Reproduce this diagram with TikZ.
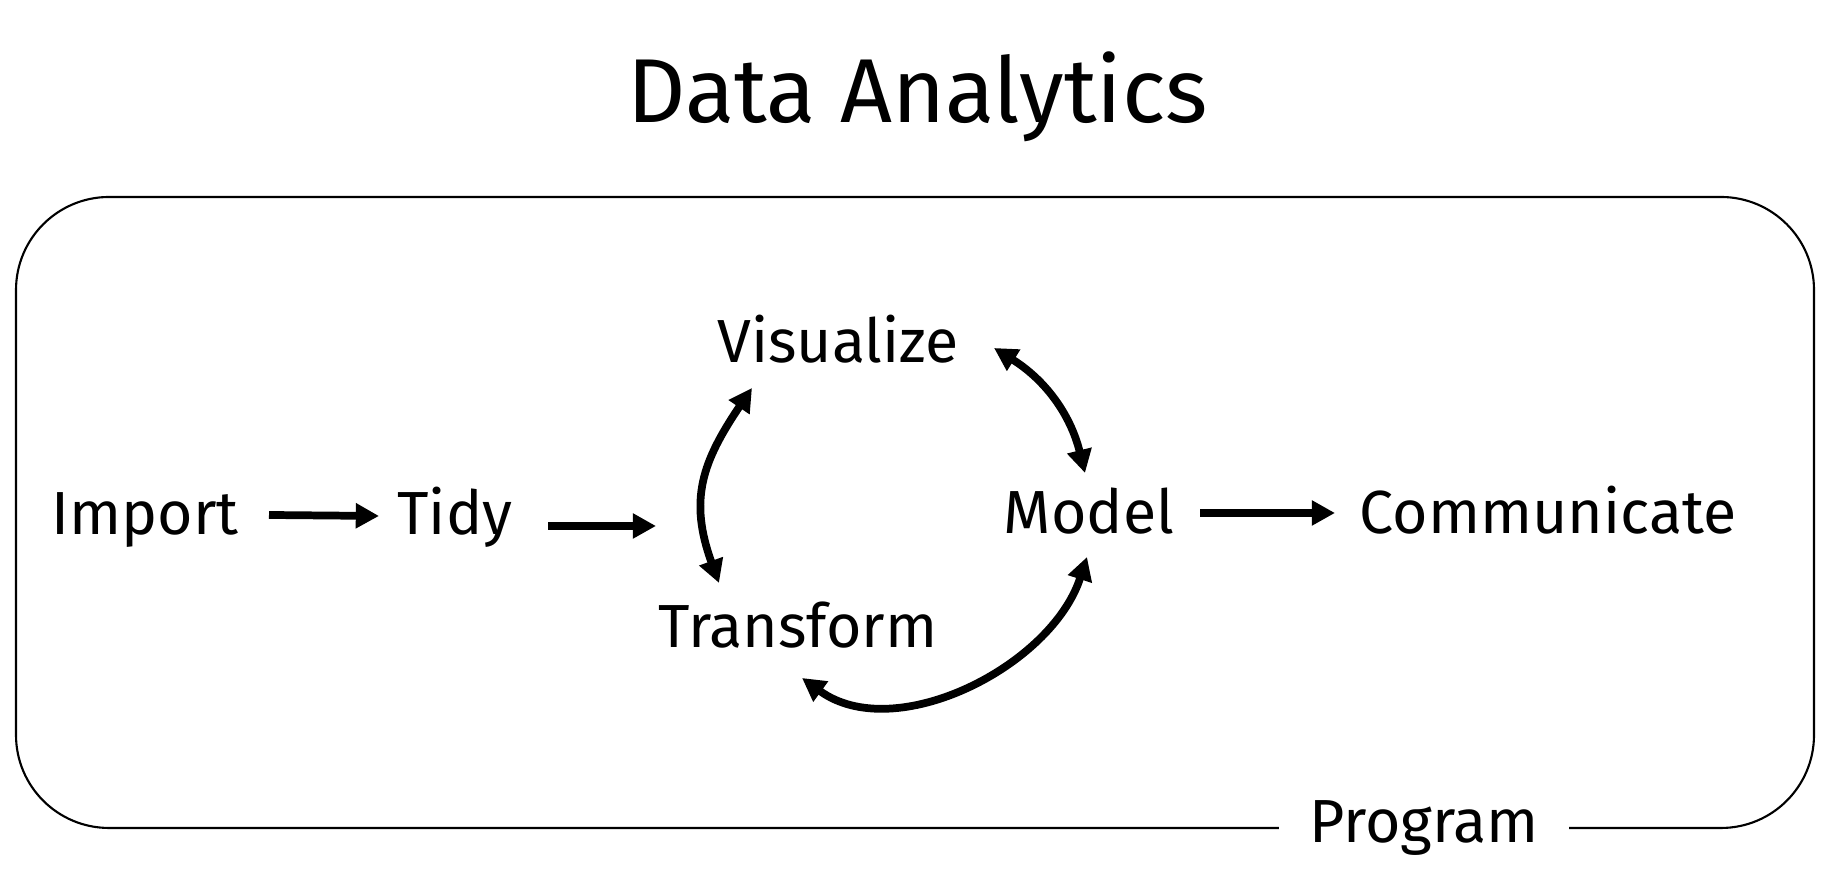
\documentclass[tikz,border=0pt]{standalone}
\usepackage{xcolor}
\usepackage{fontspec}
\setmainfont{Fira Sans}
\usepackage{tikz}
\usetikzlibrary{arrows.meta}

\tikzset{
    stage/.style={inner sep=0pt, anchor=base, font=\fontsize{17.3}{20}\selectfont},
    flow/.style={line width=2.2pt, >={Triangle[length=6.6pt,width=6.8pt]}}
}

\begin{document}
\begin{tikzpicture}[x=0.01cm, y=0.01cm]
        \useasboundingbox (0,0) rectangle (1827,883);
        \node[anchor=base, inner sep=0pt, font=\fontsize{25.8}{30}\selectfont] (title) at (918,760) {Data Analytics};
        \draw[line width=0.6pt, rounded corners=0.93cm] (16,55) rectangle (1814,686);
        \node[stage, fill=white, inner xsep=0.3cm, inner ysep=0.1cm] (program) at (1424,40) {Program};
        \node[stage] (import) at (145,348) {Import};
        \node[stage] (tidy) at (455,348) {Tidy};
        \node[stage] (visualize) at (838,520) {Visualize};
        \node[stage] (transform) at (798,235) {Transform};
        \node[stage] (model) at (1089,349) {Model};
        \node[stage] (communicate) at (1548,349) {Communicate};
        \coordinate (loopin) at (656,357);
        \draw[flow, ->] ([shift={(124,20)}]import.base) -- ([shift={(-76,19)}]tidy.base);
        \draw[flow, ->] ([shift={(93,9)}]tidy.base) -- (loopin);
        \draw[flow, ->] ([shift={(111,21)}]model.base) -- ([shift={(-213,21)}]communicate.base);
        \draw[flow, <->] ([shift={(-79,65)}]transform.base) to [looseness=1.15, out=110, in=236] ([shift={(-86,-25)}]visualize.base);
        \draw[flow, <->] ([shift={(-4,61)}]model.base) to [looseness=1, out=104, in=328] ([shift={(156,15)}]visualize.base);
        \draw[flow, <->] ([shift={(4,-30)}]transform.base) to [looseness=0.95, out=-36, in=252] ([shift={(-2,-23)}]model.base);
    \end{tikzpicture}
\end{document}
